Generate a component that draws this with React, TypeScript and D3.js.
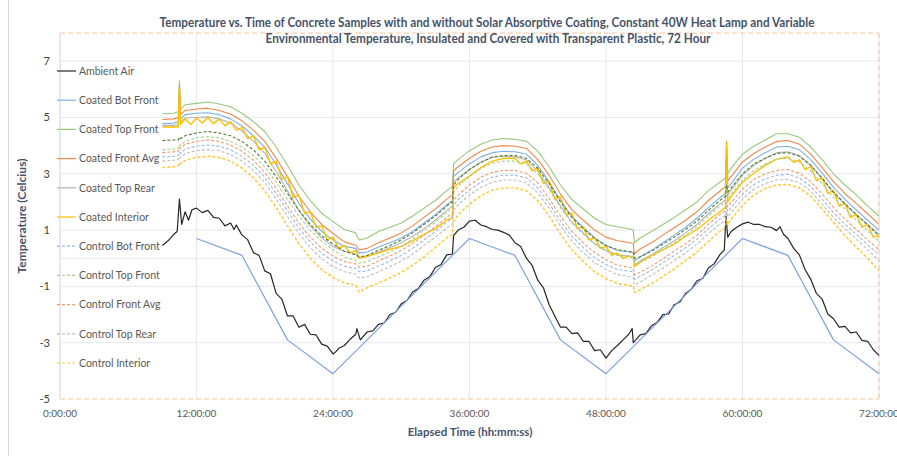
import React from "react";
import * as d3 from "d3";

// ---------- DATA ----------
const titleLines = [
  "Temperature vs. Time of Concrete Samples with and without Solar Absorptive Coating, Constant 40W Heat Lamp and Variable",
  "Environmental Temperature, Insulated and Covered with Transparent Plastic, 72 Hour",
];
const xTickValues = [0, 12, 24, 36, 48, 60, 72];
const xTickLabels = ["0:00:00", "12:00:00", "24:00:00", "36:00:00", "48:00:00", "60:00:00", "72:00:00"];
const yTickValues = [-5, -3, -1, 1, 3, 5, 7];
const yGridValues = [-3, -1, 0, 1, 3, 5, 7];

// shared sample times (hours) of the sensor series
const sensorTime = [9, 10, 10.4, 10.5, 10.6, 11,
  12, 13, 14, 15, 16, 17, 18, 19, 20, 21, 22, 23, 24, 25, 26,
  26.3,
  27, 28, 29, 30, 31, 32, 33, 34,
  34.5, 34.6,
  35, 36, 37, 38, 39, 40, 41, 42, 43, 44, 45, 46, 47, 48, 49, 50,
  50.4, 50.5,
  51, 52, 53, 54, 55, 56, 57, 58,
  58.5, 58.6, 58.7,
  59, 60, 61, 62, 63, 64, 65, 66, 67, 68, 69, 70, 71, 72];

const coatedTopFront = [5.13, 5.15, 5.2, 6.3, 5.3, 5.45,
  5.5, 5.55, 5.48, 5.38, 5.15, 4.85, 4.5, 3.95, 3.3, 2.6, 2.05, 1.6, 1.3, 1.02, 0.9,
  0.65,
  0.72, 0.95, 1.1, 1.25, 1.5, 1.78, 2.05, 2.4,
  2.55, 3.35,
  3.5, 3.82, 4.05, 4.2, 4.25, 4.22, 4.16, 3.8, 3.25, 2.6, 2.08, 1.75, 1.42, 1.2, 1.12, 1.05,
  1.0, 0.55,
  0.72, 0.95, 1.2, 1.45, 1.72, 2.0, 2.4, 2.7,
  2.85, 4.0, 3.0,
  3.2, 3.7, 3.98, 4.2, 4.42, 4.42, 4.3, 3.95, 3.5, 3.0, 2.6, 2.25, 1.85, 1.5];

const coatedFrontAvg = [4.93, 4.95, 5.0, 6.15, 5.1, 5.25,
  5.3, 5.33, 5.25, 5.12, 4.88, 4.55, 4.15, 3.55, 2.9, 2.2, 1.65, 1.2, 0.88, 0.58, 0.46,
  0.3,
  0.35, 0.55, 0.72, 0.9, 1.15, 1.45, 1.75, 2.1,
  2.25, 3.1,
  3.25, 3.55, 3.8, 3.95, 4.0, 3.98, 3.9, 3.5, 2.95, 2.28, 1.72, 1.35, 1.0, 0.75, 0.62, 0.56,
  0.52, 0.15,
  0.33, 0.55, 0.82, 1.08, 1.35, 1.65, 2.05, 2.38,
  2.55, 4.15, 2.75,
  2.9, 3.42, 3.72, 3.95, 4.15, 4.18, 4.05, 3.7, 3.22, 2.72, 2.3, 1.95, 1.58, 1.2];

const coatedBotFront = [4.78, 4.8, 4.85, 5.8, 4.95, 5.1,
  5.15, 5.17, 5.1, 4.95, 4.7, 4.35, 3.95, 3.32, 2.65, 1.95, 1.4, 0.95, 0.65, 0.42, 0.35,
  0.18,
  0.22, 0.4, 0.55, 0.72, 0.95, 1.25, 1.55, 1.9,
  2.05, 2.9,
  3.05, 3.35, 3.6, 3.75, 3.8, 3.78, 3.7, 3.3, 2.72, 2.05, 1.48, 1.1, 0.72, 0.45, 0.28, 0.22,
  0.2, -0.1,
  0.05, 0.28, 0.55, 0.82, 1.1, 1.42, 1.8, 2.15,
  2.3, 3.6, 2.5,
  2.65, 3.2, 3.52, 3.75, 3.95, 3.98, 3.85, 3.5, 3.02, 2.52, 2.1, 1.72, 1.35, 1.0];

const coatedTopRear = [4.72, 4.72, 4.75, 5.6, 4.85, 4.98,
  5.0, 5.02, 4.95, 4.8, 4.52, 4.15, 3.72, 3.08, 2.4, 1.7, 1.15, 0.72, 0.42, 0.25, 0.15,
  0.02,
  0.05, 0.22, 0.38, 0.55, 0.78, 1.05, 1.35, 1.7,
  1.85, 2.7,
  2.85, 3.15, 3.42, 3.58, 3.62, 3.6, 3.5, 3.1, 2.5, 1.85, 1.28, 0.9, 0.52, 0.28, 0.12, 0.08,
  0.05, -0.25,
  -0.1, 0.12, 0.38, 0.62, 0.9, 1.2, 1.58, 1.92,
  2.08, 3.4, 2.25,
  2.42, 2.95, 3.3, 3.55, 3.75, 3.78, 3.65, 3.3, 2.82, 2.32, 1.9, 1.55, 1.2, 0.85];

// Coated Interior is read at a finer step because it zigzags strongly
const coatedInteriorTime = [9, 10, 10.4, 10.5, 10.6, 11, 11.5, 12, 12.5, 13, 13.5, 14, 14.5, 15, 15.5, 16, 16.5,
  17, 17.5, 18, 18.5, 19, 19.5, 20, 20.5, 21, 21.5, 22, 22.5, 23, 23.5, 24, 24.5, 25, 25.5, 26, 26.3,
  27, 28, 29, 30, 31, 32, 33, 34, 34.5, 34.6, 35, 36, 37, 38, 39, 40, 40.5, 41, 41.5, 42, 42.5, 43,
  43.5, 44, 44.5, 45, 45.5, 46, 46.5, 47, 47.5, 48, 48.5, 49, 49.5, 50, 50.4, 50.5, 51, 52, 53, 54,
  55, 56, 57, 58, 58.5, 58.6, 58.7, 59, 60, 61, 62, 63, 64, 64.5, 65, 65.5, 66, 66.5, 67, 67.5, 68,
  68.5, 69, 69.5, 70, 70.5, 71, 71.5, 72];
const coatedInterior = [4.66, 4.66, 4.66, 6.05, 4.75, 4.95, 4.75, 4.98, 4.8, 5.0, 4.78, 4.95, 4.7, 4.85, 4.55, 4.65, 4.25,
  4.35, 3.85, 3.95, 3.35, 3.45, 2.8, 2.9, 2.15, 2.25, 1.6, 1.65, 1.1, 1.15, 0.65, 0.75, 0.35, 0.45, 0.2, 0.28, 0.0,
  0.08, 0.18, 0.32, 0.42, 0.62, 0.85, 1.05, 1.35, 1.45, 2.5, 2.65, 2.92, 3.22, 3.45, 3.55, 3.55, 3.35, 3.45, 3.1, 3.2, 2.65, 2.75,
  2.1, 2.2, 1.55, 1.6, 1.05, 1.12, 0.65, 0.72, 0.35, 0.42, 0.1, 0.18, 0.0, 0.08, 0.02, -0.3, -0.15, 0.1, 0.3, 0.5,
  0.78, 1.02, 1.35, 1.65, 1.8, 4.1, 2.0, 2.2, 2.7, 3.02, 3.3, 3.52, 3.6, 3.4, 3.5, 3.15, 3.25, 2.75, 2.85, 2.3, 2.4,
  1.85, 1.95, 1.45, 1.55, 1.1, 1.2, 0.75, 0.8];

const controlBotFront = [3.6, 3.62, 3.65, 3.78, 3.72, 3.88,
  3.98, 4.02, 3.98, 3.85, 3.62, 3.3, 2.88, 2.3, 1.68, 1.08, 0.58, 0.18, -0.1, -0.28, -0.36,
  -0.48,
  -0.45, -0.28, -0.1, 0.1, 0.35, 0.65, 0.95, 1.28,
  1.42, 1.88,
  2.08, 2.42, 2.7, 2.88, 2.95, 2.95, 2.85, 2.5, 1.95, 1.32, 0.78, 0.38, 0.02, -0.22, -0.4, -0.46,
  -0.48, -0.75,
  -0.65, -0.42, -0.16, 0.1, 0.38, 0.68, 1.05, 1.38,
  1.52, 1.85, 1.65,
  1.8, 2.28, 2.62, 2.82, 2.95, 2.98, 2.85, 2.55, 2.1, 1.62, 1.22, 0.85, 0.48, 0.12];

const controlTopFront = [3.85, 3.88, 3.9, 4.05, 4.0, 4.15,
  4.28, 4.32, 4.28, 4.15, 3.95, 3.65, 3.25, 2.7, 2.1, 1.5, 1.0, 0.6, 0.3, 0.05, -0.08,
  -0.18,
  -0.12, 0.05, 0.22, 0.42, 0.68, 0.98, 1.28, 1.62,
  1.78, 2.35,
  2.55, 2.9, 3.18, 3.38, 3.45, 3.45, 3.35, 3.0, 2.45, 1.8, 1.25, 0.85, 0.5, 0.25, 0.1, 0.05,
  0.02, -0.22,
  -0.15, 0.05, 0.3, 0.55, 0.82, 1.12, 1.5, 1.85,
  2.0, 2.3, 2.12,
  2.28, 2.78, 3.12, 3.35, 3.52, 3.55, 3.42, 3.1, 2.65, 2.15, 1.75, 1.35, 0.98, 0.6];

const controlFrontAvg = [3.75, 3.78, 3.8, 3.95, 3.9, 4.05,
  4.15, 4.2, 4.15, 4.02, 3.8, 3.48, 3.05, 2.48, 1.85, 1.25, 0.75, 0.35, 0.08, -0.12, -0.2,
  -0.32,
  -0.28, -0.1, 0.08, 0.28, 0.52, 0.82, 1.12, 1.45,
  1.6, 2.05,
  2.25, 2.6, 2.88, 3.05, 3.12, 3.12, 3.02, 2.68, 2.12, 1.5, 0.95, 0.55, 0.2, -0.05, -0.25, -0.32,
  -0.35, -0.6,
  -0.5, -0.28, -0.02, 0.25, 0.52, 0.82, 1.2, 1.55,
  1.7, 2.0, 1.82,
  1.98, 2.45, 2.8, 3.0, 3.12, 3.15, 3.02, 2.72, 2.28, 1.8, 1.4, 1.02, 0.65, 0.3];

const controlTopRear = [3.45, 3.48, 3.5, 3.62, 3.56, 3.72,
  3.82, 3.86, 3.82, 3.68, 3.45, 3.12, 2.7, 2.1, 1.48, 0.88, 0.38, -0.02, -0.3, -0.48, -0.56,
  -0.7,
  -0.66, -0.48, -0.3, -0.1, 0.15, 0.45, 0.75, 1.08,
  1.22, 1.7,
  1.9, 2.25, 2.52, 2.7, 2.78, 2.78, 2.68, 2.32, 1.78, 1.15, 0.6, 0.2, -0.16, -0.4, -0.58, -0.65,
  -0.68, -0.95,
  -0.85, -0.6, -0.35, -0.08, 0.2, 0.5, 0.88, 1.2,
  1.35, 1.65, 1.48,
  1.62, 2.1, 2.45, 2.65, 2.78, 2.8, 2.68, 2.38, 1.92, 1.45, 1.05, 0.68, 0.3, -0.08];

const controlInterior = [3.22, 3.25, 3.28, 3.4, 3.35, 3.48,
  3.58, 3.62, 3.58, 3.45, 3.2, 2.85, 2.4, 1.8, 1.15, 0.52, 0.0, -0.4, -0.68, -0.88, -0.95,
  -1.2,
  -1.05, -0.88, -0.7, -0.5, -0.25, 0.05, 0.38, 0.72,
  0.85, 1.3,
  1.55, 1.92, 2.22, 2.42, 2.5, 2.5, 2.4, 2.05, 1.5, 0.85, 0.3, -0.12, -0.48, -0.72, -0.9, -0.96,
  -1.0, -1.22,
  -1.12, -0.9, -0.65, -0.38, -0.08, 0.22, 0.6, 0.95,
  1.1, 1.35, 1.22,
  1.38, 1.88, 2.25, 2.48, 2.6, 2.62, 2.5, 2.2, 1.75, 1.28, 0.8, 0.4, 0.0, -0.45];

// a further control series drawn in dark green (its legend entry is cut off)
const controlRearExtra = [4.18, 4.2, 4.2, 4.3, 4.25, 4.35,
  4.45, 4.5, 4.45, 4.35, 4.15, 3.85, 3.45, 2.9, 2.3, 1.7, 1.2, 0.8, 0.5, 0.25, 0.12,
  0.05,
  0.1, 0.28, 0.45, 0.65, 0.9, 1.2, 1.5, 1.85,
  2.0, 2.6,
  2.8, 3.15, 3.4, 3.6, 3.65, 3.65, 3.55, 3.2, 2.65, 2.0, 1.45, 1.05, 0.7, 0.45, 0.3, 0.25,
  0.22, 0.0,
  0.05, 0.25, 0.5, 0.75, 1.02, 1.32, 1.7, 2.05,
  2.2, 2.6, 2.35,
  2.5, 3.0, 3.35, 3.55, 3.72, 3.75, 3.62, 3.3, 2.85, 2.35, 1.95, 1.55, 1.18, 0.8];

// environmental set temperature profile
const setTime = [12, 16, 20, 24, 36, 40, 44, 48, 60, 64, 68, 72];
const setTemp = [0.7, 0.1, -2.9, -4.1, 0.7, 0.1, -2.9, -4.1, 0.7, 0.1, -2.9, -4.1];

const ambientTime = [9, 9.5, 10, 10.3, 10.5, 10.7, 11, 11.3, 11.6, 12, 12.5, 13, 13.5, 14, 14.5, 15, 15.3, 15.5,
  16, 16.5, 17, 17.5, 18, 18.5, 19, 19.5, 20, 20.5, 21, 21.5, 22, 22.5, 23, 23.5, 24, 24.3, 24.5,
  25, 25.5, 26, 26.1, 26.4, 27, 27.5, 28, 28.5, 29, 29.5, 30, 30.5, 31, 31.5, 32, 32.5, 33, 33.5,
  34, 34.5, 34.6, 35, 35.5, 36, 36.5, 37, 37.5, 38, 38.5, 39, 39.5, 40, 40.5, 41, 41.5, 42, 42.5,
  43, 43.5, 44, 44.5, 45, 45.5, 46, 46.5, 47, 47.5, 48, 48.5, 49, 49.5, 50, 50.3, 50.4, 51, 51.5,
  52, 52.5, 53, 53.5, 54, 54.5, 55, 55.5, 56, 56.5, 57, 57.5, 58, 58.4, 58.55, 58.7, 59, 59.5,
  60, 60.5, 61, 61.5, 62, 62.5, 63, 63.3, 63.6, 64, 64.5, 65, 65.5, 66, 66.5, 67, 67.5, 68, 68.5,
  69, 69.5, 70, 70.5, 71, 71.5, 72];
const ambientAir = [0.45, 0.62, 0.85, 0.95, 2.1, 1.2, 1.65, 1.35, 1.72, 1.78, 1.62, 1.7, 1.45, 1.42, 1.15, 1.25, 1.02, 1.18,
  0.82, 0.66, 0.2, 0.1, -0.45, -0.55, -1.25, -1.45, -2.05, -2.05, -2.45, -2.35, -2.7, -2.72, -3.05, -3.12, -3.4, -3.3, -3.2,
  -3.1, -2.88, -2.7, -2.5, -2.9, -2.62, -2.58, -2.35, -2.3, -2.0, -1.92, -1.62, -1.5, -1.2, -1.08, -0.78, -0.66, -0.33, -0.22,
  0.12, 0.15, 0.8, 1.0, 1.1, 1.32, 1.35, 1.18, 1.12, 1.02, 1.0, 0.92, 0.82, 0.55, 0.42, 0.0, -0.25, -0.78, -1.05,
  -1.65, -2.05, -2.45, -2.45, -2.68, -2.65, -2.95, -2.95, -3.28, -3.25, -3.55, -3.28, -3.1, -2.9, -2.7, -2.5, -3.0, -2.72, -2.68,
  -2.4, -2.28, -2.0, -1.98, -1.65, -1.55, -1.25, -1.1, -0.8, -0.72, -0.35, -0.2, 0.12, 0.3, 1.5, 0.75, 0.95, 1.1,
  1.22, 1.28, 1.2, 1.2, 1.12, 1.1, 0.98, 1.12, 0.85, 0.7, 0.35, 0.12, -0.4, -0.75, -1.25, -1.45, -1.98, -2.15, -2.45,
  -2.42, -2.65, -2.62, -2.92, -2.95, -3.25, -3.45];

// ---------- LAYOUT ----------
const W = 897;
const H = 456;
const x = d3.scaleLinear().domain([0, 72]).range([60, 879]);
const y = d3.scaleLinear().domain([-5, 8]).range([399, 33]);

type Series = {
  name: string;
  times: number[];
  values: number[];
  color: string;
  dash?: string;
  width: number;
  legend: boolean;
};

const series: Series[] = [
  { name: "Ambient Air", times: ambientTime, values: ambientAir, color: "#262626", width: 1.2, legend: true },
  { name: "Coated Bot Front", times: sensorTime, values: coatedBotFront, color: "#7fb0e3", width: 1.1, legend: true },
  { name: "Coated Top Front", times: sensorTime, values: coatedTopFront, color: "#98c97a", width: 1.1, legend: true },
  { name: "Coated Front Avg", times: sensorTime, values: coatedFrontAvg, color: "#ef8848", width: 1.1, legend: true },
  { name: "Coated Top Rear", times: sensorTime, values: coatedTopRear, color: "#b3b3b3", width: 1.1, legend: true },
  { name: "Coated Interior", times: coatedInteriorTime, values: coatedInterior, color: "#ffc000", width: 1.4, legend: true },
  { name: "Control Bot Front", times: sensorTime, values: controlBotFront, color: "#9db9e3", dash: "3,2", width: 1.1, legend: true },
  { name: "Control Top Front", times: sensorTime, values: controlTopFront, color: "#a9d18e", dash: "3,2", width: 1.1, legend: true },
  { name: "Control Front Avg", times: sensorTime, values: controlFrontAvg, color: "#f19a68", dash: "3,2", width: 1.1, legend: true },
  { name: "Control Top Rear", times: sensorTime, values: controlTopRear, color: "#bdbdbd", dash: "3,2", width: 1.1, legend: true },
  { name: "Control Interior", times: sensorTime, values: controlInterior, color: "#ffc62a", dash: "3,2", width: 1.4, legend: true },
  { name: "Control Extra", times: sensorTime, values: controlRearExtra, color: "#4e7a33", dash: "3,2", width: 1.1, legend: false },
  { name: "Set Temperature", times: setTime, values: setTemp, color: "#7fa1dc", width: 1.2, legend: false },
];

const line = d3
  .line<[number, number]>()
  .x((d) => x(d[0]))
  .y((d) => y(d[1]));

const FONT = "Lato, 'Open Sans', 'Liberation Sans', sans-serif";
const TITLE_COLOR = "#46536a";
const LABEL_COLOR = "#595959";

export default function App() {
  const legendItems = series.filter((s) => s.legend);
  return (
    <svg width={W} height={H} viewBox={`0 0 ${W} ${H}`} style={{ display: "block", position: "absolute", left: 0, top: 0, background: "#fff" }}>
      <rect x={0} y={0} width={W} height={H} fill="#ffffff" />
      <line x1={8.5} x2={8.5} y1={0} y2={H} stroke="#d9d9d9" strokeWidth={1} />

      {/* grid */}
      {yGridValues.map((v) => (
        <line key={"gy" + v} x1={x(0)} x2={x(72)} y1={y(v)} y2={y(v)} stroke="#e6e8ee" strokeWidth={1} />
      ))}
      {xTickValues.map((v) => (
        <line key={"gx" + v} x1={x(v)} x2={x(v)} y1={y(8)} y2={y(-5)} stroke="#e6e8ee" strokeWidth={1} />
      ))}
      <line x1={x(0)} x2={x(0)} y1={y(8)} y2={y(-5)} stroke="#d9deea" strokeWidth={1} />
      {/* plot border (dashed) */}
      <line x1={x(0)} x2={x(72)} y1={y(8)} y2={y(8)} stroke="#f6c4a0" strokeWidth={1} strokeDasharray="5,3" />
      <line x1={x(0)} x2={x(72)} y1={y(-5)} y2={y(-5)} stroke="#f6c4a0" strokeWidth={1.2} strokeDasharray="5,3" />
      <line x1={x(72)} x2={x(72)} y1={y(8)} y2={y(-5)} stroke="#f6c4a0" strokeWidth={1} strokeDasharray="5,3" />

      {/* series */}
      {series.map((s) => {
        const n = Math.min(s.times.length, s.values.length);
        const pts: [number, number][] = s.values.slice(0, n).map((v, i) => [s.times[i], v]);
        return (
          <path
            key={s.name}
            d={line(pts) || ""}
            fill="none"
            stroke={s.color}
            strokeWidth={s.width}
            strokeDasharray={s.dash}
            strokeLinejoin="round"
          />
        );
      })}

      {/* y tick labels */}
      {yTickValues.map((v) => (
        <text key={"yt" + v} x={50} y={y(v) + 4} textAnchor="end" fontFamily={FONT} fontSize={11} fill="#404040">
          {v}
        </text>
      ))}
      {/* x tick labels */}
      {xTickValues.map((v, i) => (
        <text key={"xt" + v} x={x(v)} y={417} textAnchor="middle" fontFamily={FONT} fontSize={10} fill={LABEL_COLOR}>
          {xTickLabels[i]}
        </text>
      ))}

      {/* titles */}
      <text x={487} y={27} textAnchor="middle" fontFamily={FONT} fontWeight="bold" fontSize={12.5} fill={TITLE_COLOR} textLength={655} lengthAdjust="spacingAndGlyphs">
        {titleLines[0]}
      </text>
      <text x={488} y={43} textAnchor="middle" fontFamily={FONT} fontWeight="bold" fontSize={12.5} fill={TITLE_COLOR} textLength={445} lengthAdjust="spacingAndGlyphs">
        {titleLines[1]}
      </text>
      <text x={470} y={436} textAnchor="middle" fontFamily={FONT} fontWeight="bold" fontSize={11.5} fill={TITLE_COLOR}>
        Elapsed Time (hh:mm:ss)
      </text>
      <text transform="translate(26,216) rotate(-90)" textAnchor="middle" fontFamily={FONT} fontWeight="bold" fontSize={12} fill={TITLE_COLOR}>
        Temperature (Celcius)
      </text>

      {/* legend */}
      {legendItems.map((s, i) => {
        const ly = 71 + i * 29.2;
        return (
          <g key={"lg" + s.name}>
            <line x1={57} x2={76} y1={ly} y2={ly} stroke={s.color} strokeWidth={1.2} strokeDasharray={s.dash} />
            <text x={79} y={ly + 3.8} fontFamily={FONT} fontSize={10.5} fill={LABEL_COLOR}>
              {s.name}
            </text>
          </g>
        );
      })}
    </svg>
  );
}
